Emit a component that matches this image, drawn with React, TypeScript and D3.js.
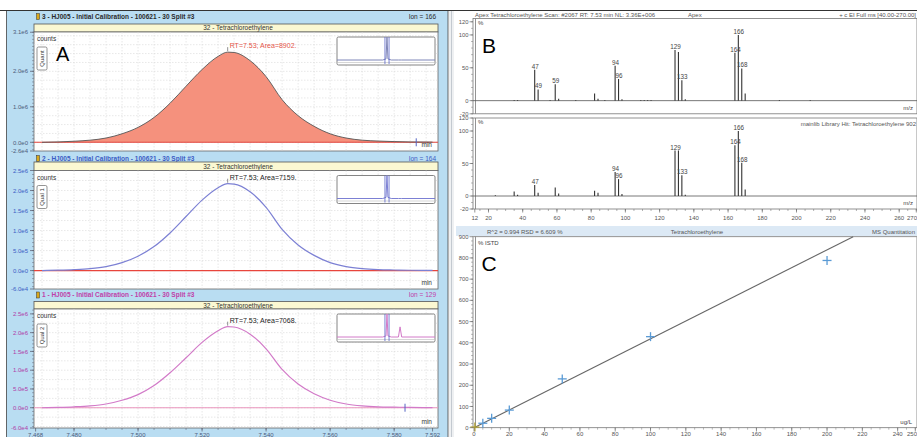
import React from 'react';
import * as d3 from 'd3';

const FONT = "'Liberation Sans', Arial, sans-serif";

// ---- A: extracted ion chromatograms (counts x 1e6) ----
const rtTimes = [7.470, 7.475, 7.480, 7.485, 7.490, 7.495, 7.500, 7.505, 7.510, 7.515, 7.520, 7.525, 7.528,
  7.530, 7.535, 7.540, 7.545, 7.550, 7.555, 7.560, 7.565, 7.570, 7.575, 7.580, 7.585, 7.592];
const ion166 = [0.00, 0.01, 0.03, 0.06, 0.12, 0.24, 0.42, 0.70, 1.10, 1.58, 2.05, 2.42, 2.54,
  2.53, 2.30, 1.85, 1.20, 0.75, 0.45, 0.24, 0.12, 0.06, 0.035, 0.02, 0.01, 0.005];
const ion164 = [0.00, 0.01, 0.025, 0.05, 0.10, 0.20, 0.36, 0.60, 0.94, 1.35, 1.76, 2.07, 2.17,
  2.16, 1.97, 1.58, 1.03, 0.64, 0.38, 0.20, 0.10, 0.05, 0.025, 0.015, 0.008, 0.004];
const ion129 = [0.00, 0.01, 0.025, 0.05, 0.10, 0.20, 0.35, 0.59, 0.93, 1.33, 1.74, 2.05, 2.16,
  2.15, 1.96, 1.57, 1.02, 0.63, 0.37, 0.20, 0.10, 0.05, 0.025, 0.015, 0.008, 0.004];

const rtTicks = [7.468, 7.48, 7.50, 7.52, 7.54, 7.56, 7.58, 7.592];
const rtTickLabels = ['7.468', '7.480', '7.500', '7.520', '7.540', '7.560', '7.580', '7.592'];

const yTicks166 = [3.1, 2.0, 1.0, 0, -0.245];
const yLabels166 = ['3.1e6', '2.0e6', '1.0e6', '0.0e0', '-2.6e4'];
const yTicks164 = [2.5, 2.0, 1.5, 1.0, 0.5, 0, -0.46];
const yLabels164 = ['2.5e6', '2.0e6', '1.5e6', '1.0e6', '5.0e5', '0.0e0', '-6.0e4'];
const yTicks129 = [2.5, 2.0, 1.5, 1.0, 0.5, 0, -0.54];
const yLabels129 = ['2.5e6', '2.0e6', '1.5e6', '1.0e6', '5.0e5', '0.0e0', '-6.0e4'];

// overview traces in the small insets (relative)
const insetTimes = [6.0, 7.40, 7.50, 7.53, 7.56, 7.66, 7.88, 7.93, 7.98, 9.0];
const inset166 = [0, 0, 0.05, 1.05, 0.05, 0, 0, 0, 0, 0];
const inset164 = [0, 0, 0.05, 1.05, 0.05, 0, 0, 0, 0, 0];
const inset129 = [0, 0, 0.05, 1.05, 0.05, 0, 0, 0.46, 0, 0];

// ---- B: mass spectra (%) ----
const specMz = [24, 35, 37, 47, 49, 56, 59, 61, 71, 82, 84, 88, 94, 96, 98, 109, 111, 113, 115,
  129, 131, 133, 135, 164, 166, 168, 170, 190, 208];
const apexPct = [0, 1, 1, 47, 17, 1, 25, 3, 1, 11, 3, 1, 53, 33, 2, 1, 1, 1, 1,
  77, 74, 31, 2, 73, 100, 49, 11, 1, 1];
const libraryPct = [1, 7, 2, 17, 5, 0, 13, 4, 0, 8, 5, 0, 37, 26, 3, 0, 0, 0, 0,
  70, 70, 32, 2, 78, 100, 51, 10, 0, 0];
const apexLabelMz = [47, 49, 59, 94, 96, 129, 133, 164, 166, 168];
const libraryLabelMz = [47, 94, 96, 129, 133, 164, 166, 168];
const mzTicks = [12, 20, 40, 60, 80, 100, 120, 140, 160, 180, 200, 220, 240, 260, 270];
const pctTicks = [120, 100, 50, 0, -20];

// ---- C: calibration ----
const calConc = [0.5, 5, 10, 20, 50, 100, 200];
const calResp = [3, 21, 44, 83, 230, 429, 788];
const calSlope = 4.19;
const calIntercept = 0;
const concTicks = [0, 20, 40, 60, 80, 100, 120, 140, 160, 180, 200, 220, 240, 250];
const respTicks = [0, 100, 200, 300, 400, 500, 600, 700, 800, 900];

const PL = 34, PR = 438;
const rtDomain = [7.4675, 7.5937];

const chromPanels = [
  { header: '3 - HJ005 - Initial Calibration - 100621 - 30 Split #3', ion: 'Ion = 166', qual: 'Quant',
    area: 'RT=7.53; Area=8902.', values: ion166, inset: inset166, ticks: yTicks166, labels: yLabels166,
    headY: 16.5, barTop: 24, top: 32, bottom: 151, domain: [-0.245, 3.107],
    headColor: '#2a2a2a', tickColor: '#4d5b7a', line: '#555', fill: '#f5917d', base: '#e2443c',
    areaColor: '#e5554a', insetLine: '#7f86b8', marker: 7.5869 },
  { header: '2 - HJ005 - Initial Calibration - 100621 - 30 Split #3', ion: 'Ion = 164', qual: 'Qual 1',
    area: 'RT=7.53; Area=7159.', values: ion164, inset: inset164, ticks: yTicks164, labels: yLabels164,
    headY: 158.5, barTop: 162, top: 170.5, bottom: 289, domain: [-0.46, 2.5],
    headColor: '#3b5cc4', tickColor: '#3b5cc4', line: '#7c80d4', fill: null, base: '#e8453c',
    areaColor: '#222', insetLine: '#7c80d4', marker: null },
  { header: '1 - HJ005 - Initial Calibration - 100621 - 30 Split #3', ion: 'Ion = 129', qual: 'Qual 2',
    area: 'RT=7.53; Area=7068.', values: ion129, inset: inset129, ticks: yTicks129, labels: yLabels129,
    headY: 295, barTop: 301.5, top: 309, bottom: 428, domain: [-0.54, 2.63],
    headColor: '#c040a8', tickColor: '#b03aa8', line: '#d27ac8', fill: null, base: '#ea94bc',
    areaColor: '#222', insetLine: '#d27ac8', marker: 7.5834 },
];

function ChromPanel({ p }: { p: any }) {
  const x = d3.scaleLinear().domain(rtDomain).range([PL, PR]);
  const y = d3.scaleLinear().domain(p.domain).range([p.bottom, p.top]);
  const pts: [number, number][] = rtTimes.map((t, i) => [t, p.values[i]]);
  const line = d3.line<[number, number]>().x(d => x(d[0])).y(d => y(d[1])).curve(d3.curveMonotoneX);
  const area = d3.area<[number, number]>().x(d => x(d[0])).y0(y(0)).y1(d => y(d[1])).curve(d3.curveMonotoneX);
  const vx = d3.range(1494, 1519).map(k => k * 0.005).filter(v => v > rtDomain[0] && v < rtDomain[1]);
  const gy = d3.range(-4, 14).map(k => k * 0.25).filter(v => v > p.domain[0] && v < p.domain[1]);
  const minorY = d3.range(-6, 32).map(k => k * 0.1).filter(v => v > p.domain[0] && v < p.domain[1]);
  const apexI = d3.maxIndex(p.values);
  const ax = x(rtTimes[apexI]), ay = y(p.values[apexI]);

  // inset
  const ix = d3.scaleLinear().domain([6.0, 9.0]).range([337, 435]);
  const iTop = p.top + 5, iBot = p.top + 33;
  const iy = d3.scaleLinear().domain([0, 1]).range([iBot - 5, iTop + 1]);
  const iLine = d3.line<number>().x((_, i) => ix(insetTimes[i])).y(d => Math.max(iTop, iy(d)));

  return (
    <g>
      {/* header */}
      <rect x={36.5} y={p.headY - 3} width={3} height={6} fill="#d8a81c" stroke="#333" strokeWidth={0.5} />
      <text x={42} y={p.headY + 2.2} fontSize={6.5} fill={p.headColor} fontWeight="bold">{p.header}</text>
      <text x={436} y={p.headY + 2.2} fontSize={6.5} fill={p.headColor} textAnchor="end">{p.ion}</text>
      <rect x={PL} y={p.barTop} width={PR - PL} height={p.top - p.barTop} fill="#fbf8d2" stroke="#555" strokeWidth={0.8} />
      <text x={(PL + PR) / 2 + 2} y={p.barTop + (p.top - p.barTop) / 2 + 2.3} fontSize={6.5} fill="#333" textAnchor="middle">32 - Tetrachloroethylene</text>

      {/* plot */}
      <rect x={PL} y={p.top} width={PR - PL} height={p.bottom - p.top} fill="#fff" stroke="#666" strokeWidth={0.8} />
      {vx.map((v, i) => (
        <line key={'vx' + i} x1={x(v)} x2={x(v)} y1={p.top} y2={p.bottom} stroke="#d6d6d6" strokeWidth={0.6} strokeDasharray="1.5,1.5" />
      ))}
      {gy.map((v, i) => (
        <line key={'gy' + i} x1={PL} x2={PR} y1={y(v)} y2={y(v)} stroke="#d6d6d6" strokeWidth={0.6} strokeDasharray="1.5,1.5" />
      ))}
      {p.fill && <path d={area(pts) || ''} fill={p.fill} />}
      <line x1={PL} x2={PR} y1={y(0)} y2={y(0)} stroke={p.base} strokeWidth={1.1} />
      <path d={line(pts) || ''} fill="none" stroke={p.line} strokeWidth={p.fill ? 0.9 : 1.2} />
      {p.marker && (
        <line x1={x(p.marker)} x2={x(p.marker)} y1={y(0) - 4} y2={y(0) + 4} stroke="#5565c4" strokeWidth={1} />
      )}

      {/* RT annotation */}
      <line x1={ax} x2={ax} y1={ay - 5} y2={ay - 1} stroke="#444" strokeWidth={0.6} />
      <text x={ax + 2} y={ay - 4} fontSize={7} fill={p.areaColor}>{p.area}</text>

      <text x={37} y={p.top + 9} fontSize={6.5} fill="#333">counts</text>
      <rect x={37} y={p.top + 15} width={10} height={23} rx={1.5} fill="#fff" stroke="#666" strokeWidth={0.7} />
      <text transform={`translate(44.3,${p.top + 26.5}) rotate(-90)`} fontSize={6} fill="#333" textAnchor="middle">{p.qual}</text>
      <text x={432} y={p.bottom - 4} fontSize={6.5} fill="#333" textAnchor="end">min</text>

      {/* inset */}
      <rect x={337} y={iTop} width={98} height={iBot - iTop} rx={1.5} fill="#fff" stroke="#777" strokeWidth={0.9} />
      <line x1={338} x2={434} y1={iBot - 2.5} y2={iBot - 2.5} stroke="#bbb" strokeWidth={0.6} />
      <path d={iLine(p.inset) || ''} fill="none" stroke={p.insetLine} strokeWidth={1} />
      {rtDomain.map((t, i) => (
        <line key={'iw' + i} x1={ix(t)} x2={ix(t)} y1={iTop} y2={iBot - 1} stroke="#5a64c8" strokeWidth={0.8} />
      ))}

      {/* y axis */}
      {minorY.map((v, i) => (
        <line key={'my' + i} x1={PL - 2} x2={PL} y1={y(v)} y2={y(v)} stroke="#667" strokeWidth={0.5} />
      ))}
      {p.ticks.map((v: number, i: number) => (
        <g key={'yt' + i}>
          <line x1={PL - 4} x2={PL} y1={y(v)} y2={y(v)} stroke="#556" strokeWidth={0.7} />
          <text x={28} y={y(v) + 2.2} fontSize={6} fill={p.tickColor} textAnchor="end">{p.labels[i]}</text>
        </g>
      ))}
    </g>
  );
}

function RtAxis() {
  const x = d3.scaleLinear().domain(rtDomain).range([PL, PR]);
  const minor = d3.range(1494, 1519).map(k => k * 0.005).filter(v => v > rtDomain[0] && v < rtDomain[1]);
  return (
    <g>
      {minor.map((v, i) => (
        <line key={i} x1={x(v)} x2={x(v)} y1={428} y2={430} stroke="#556" strokeWidth={0.5} />
      ))}
      {rtTicks.map((v, i) => (
        <g key={'t' + i}>
          <line x1={x(v)} x2={x(v)} y1={428} y2={431.5} stroke="#556" strokeWidth={0.7} />
          <text x={x(v)} y={437} fontSize={6} fill="#4d5b7a" textAnchor="middle">{rtTickLabels[i]}</text>
        </g>
      ))}
    </g>
  );
}

function Spectrum({ y, top, bottom, values, labels, showAxis }: any) {
  const x = d3.scaleLinear().domain([12, 270]).range([474.8, 916.3]);
  const minorY = d3.range(-20, 125, 10);
  const minorX = d3.range(15, 271, 5);
  return (
    <g>
      <rect x={473} y={top} width={444} height={bottom - top} fill="#fff" stroke="#777" strokeWidth={0.8} />
      <line x1={475.5} x2={475.5} y1={top} y2={bottom} stroke="#777" strokeWidth={0.8} />
      <line x1={473} x2={917} y1={y(0)} y2={y(0)} stroke="#555" strokeWidth={0.8} />
      {minorY.map((v: number, i: number) => (
        <line key={'m' + i} x1={471} x2={473} y1={y(v)} y2={y(v)} stroke="#777" strokeWidth={0.5} />
      ))}
      {pctTicks.map((v, i) => (
        <g key={'t' + i}>
          <line x1={469.5} x2={473} y1={y(v)} y2={y(v)} stroke="#666" strokeWidth={0.7} />
          <text x={468.5} y={y(v) + 2.1} fontSize={5.8} fill="#555" textAnchor="end">{v}</text>
        </g>
      ))}
      {specMz.map((mz, i) => values[i] > 0 && (
        <line key={'p' + i} x1={x(mz)} x2={x(mz)} y1={y(0)} y2={y(values[i])} stroke="#333" strokeWidth={1.1} />
      ))}
      {labels.map((mz: number, i: number) => {
        const v = values[specMz.indexOf(mz)];
        return (
          <text key={'l' + i} x={x(mz) + 0.5} y={y(v) - 1} fontSize={6.3} fill="#444" textAnchor="middle">{mz}</text>
        );
      })}
      <text x={478} y={top + 6} fontSize={6} fill="#444">%</text>
      <text x={913} y={bottom - 4} fontSize={6} fill="#444" textAnchor="end">m/z</text>
      {showAxis && (
        <g>
          {minorX.map((v: number, i: number) => (
            <line key={'mx' + i} x1={x(v)} x2={x(v)} y1={bottom} y2={bottom + 2} stroke="#666" strokeWidth={0.5} />
          ))}
          {mzTicks.map((v, i) => (
            <g key={'xt' + i}>
              <line x1={x(v)} x2={x(v)} y1={bottom} y2={bottom + 3.5} stroke="#666" strokeWidth={0.7} />
              <text x={i === mzTicks.length - 1 ? 917 : x(v)} y={220} fontSize={6} fill="#555"
                textAnchor={i === mzTicks.length - 1 ? 'end' : 'middle'}>{v}</text>
            </g>
          ))}
        </g>
      )}
    </g>
  );
}

function Calibration() {
  const x = d3.scaleLinear().domain([0, 250]).range([474, 915.3]);
  const y = d3.scaleLinear().domain([0, 900]).range([427.7, 236.7]);
  const xEnd = (900 - calIntercept) / calSlope;
  const minorX = d3.range(5, 251, 5);
  const minorY = d3.range(20, 900, 20);
  return (
    <g>
      <rect x={456} y={226} width={461} height={10} fill="#dce9f5" />
      <text x={487} y={233.5} fontSize={6} fill="#555">R^2 = 0.994   RSD = 6.609 %</text>
      <text x={697} y={233.5} fontSize={6} fill="#555" textAnchor="middle">Tetrachloroethylene</text>
      <text x={872} y={233.5} fontSize={6} fill="#555">MS Quantitation</text>
      <rect x={473} y={236.7} width={444} height={191} fill="#fff" stroke="#777" strokeWidth={0.8} />
      <line x1={475.5} x2={475.5} y1={236.7} y2={427.7} stroke="#777" strokeWidth={0.8} />
      <line x1={x(0)} y1={y(calIntercept)} x2={x(xEnd)} y2={y(900)} stroke="#666" strokeWidth={1.1} />
      {calConc.map((c, i) => (
        <g key={'pt' + i} stroke={i === 0 ? '#b0a032' : '#5b9bd5'} strokeWidth={1.3}>
          <line x1={x(c) - 4.5} x2={x(c) + 4.5} y1={y(calResp[i])} y2={y(calResp[i])} />
          <line x1={x(c)} x2={x(c)} y1={y(calResp[i]) - 4.5} y2={y(calResp[i]) + 4.5} />
        </g>
      ))}
      {minorY.map((v, i) => (
        <line key={'my' + i} x1={471} x2={473} y1={y(v)} y2={y(v)} stroke="#777" strokeWidth={0.5} />
      ))}
      {respTicks.map((v, i) => (
        <g key={'yt' + i}>
          <line x1={469.5} x2={473} y1={y(v)} y2={y(v)} stroke="#666" strokeWidth={0.7} />
          <text x={468.5} y={y(v) + 2.1} fontSize={5.8} fill="#555" textAnchor="end">{v}</text>
        </g>
      ))}
      {minorX.map((v, i) => (
        <line key={'mx' + i} x1={x(v)} x2={x(v)} y1={427.7} y2={429.7} stroke="#777" strokeWidth={0.5} />
      ))}
      {concTicks.map((v, i) => (
        <g key={'xt' + i}>
          <line x1={x(v)} x2={x(v)} y1={427.7} y2={431.5} stroke="#666" strokeWidth={0.7} />
          <text x={i === concTicks.length - 1 ? 917 : x(v)} y={436} fontSize={6} fill="#555"
            textAnchor={i === concTicks.length - 1 ? 'end' : 'middle'}>{v}</text>
        </g>
      ))}
      <text x={478} y={245} fontSize={6} fill="#444">% ISTD</text>
      <text x={912} y={424} fontSize={6} fill="#444" textAnchor="end">ug/L</text>
    </g>
  );
}

export default function App() {
  const spec1Y = d3.scaleLinear().domain([-20, 125]).range([113.8, 18.5]);
  const spec2Y = d3.scaleLinear().domain([-20, 120]).range([209, 118]);
  return (
    <svg width={917} height={437} style={{ position: 'fixed', left: 0, top: 0, background: '#fff' }}
      fontFamily={FONT}>
      {/* left window */}
      <rect x={6.5} y={10.5} width={441.5} height={427} fill="#b9ddf2" stroke="#444" strokeWidth={0.8} />
      {chromPanels.map((p, i) => <ChromPanel key={i} p={p} />)}
      <RtAxis />
      <rect x={449} y={10.5} width={5} height={427} fill="#eef0f2" />
      <line x1={451.5} x2={451.5} y1={10.5} y2={437} stroke="#b8bfc6" strokeWidth={0.8} />
      <line x1={0} x2={917} y1={10.5} y2={10.5} stroke="#333" strokeWidth={1.2} />

      {/* B: spectra */}
      <text x={475} y={16.5} fontSize={6} fill="#555">Apex Tetrachloroethylene Scan: #2067  RT: 7.53 min  NL: 3.36E+006</text>
      <text x={688} y={16.5} fontSize={6} fill="#555">Apex</text>
      <text x={916} y={16.5} fontSize={6} fill="#555" textAnchor="end">+ c EI Full ms [40.00-270.00]</text>
      <Spectrum y={spec1Y} top={18.5} bottom={113.8} values={apexPct} labels={apexLabelMz} showAxis={false} />
      <Spectrum y={spec2Y} top={118} bottom={209} values={libraryPct} labels={libraryLabelMz} showAxis={true} />
      <text x={916} y={126} fontSize={6} fill="#555" textAnchor="end">mainlib Library Hit: Tetrachloroethylene 902</text>

      {/* C: calibration */}
      <Calibration />

      <text x={56} y={61} fontSize={20} fill="#000">A</text>
      <text x={482} y={52.5} fontSize={21} fill="#000">B</text>
      <text x={481.5} y={270.5} fontSize={21} fill="#000">C</text>
    </svg>
  );
}
